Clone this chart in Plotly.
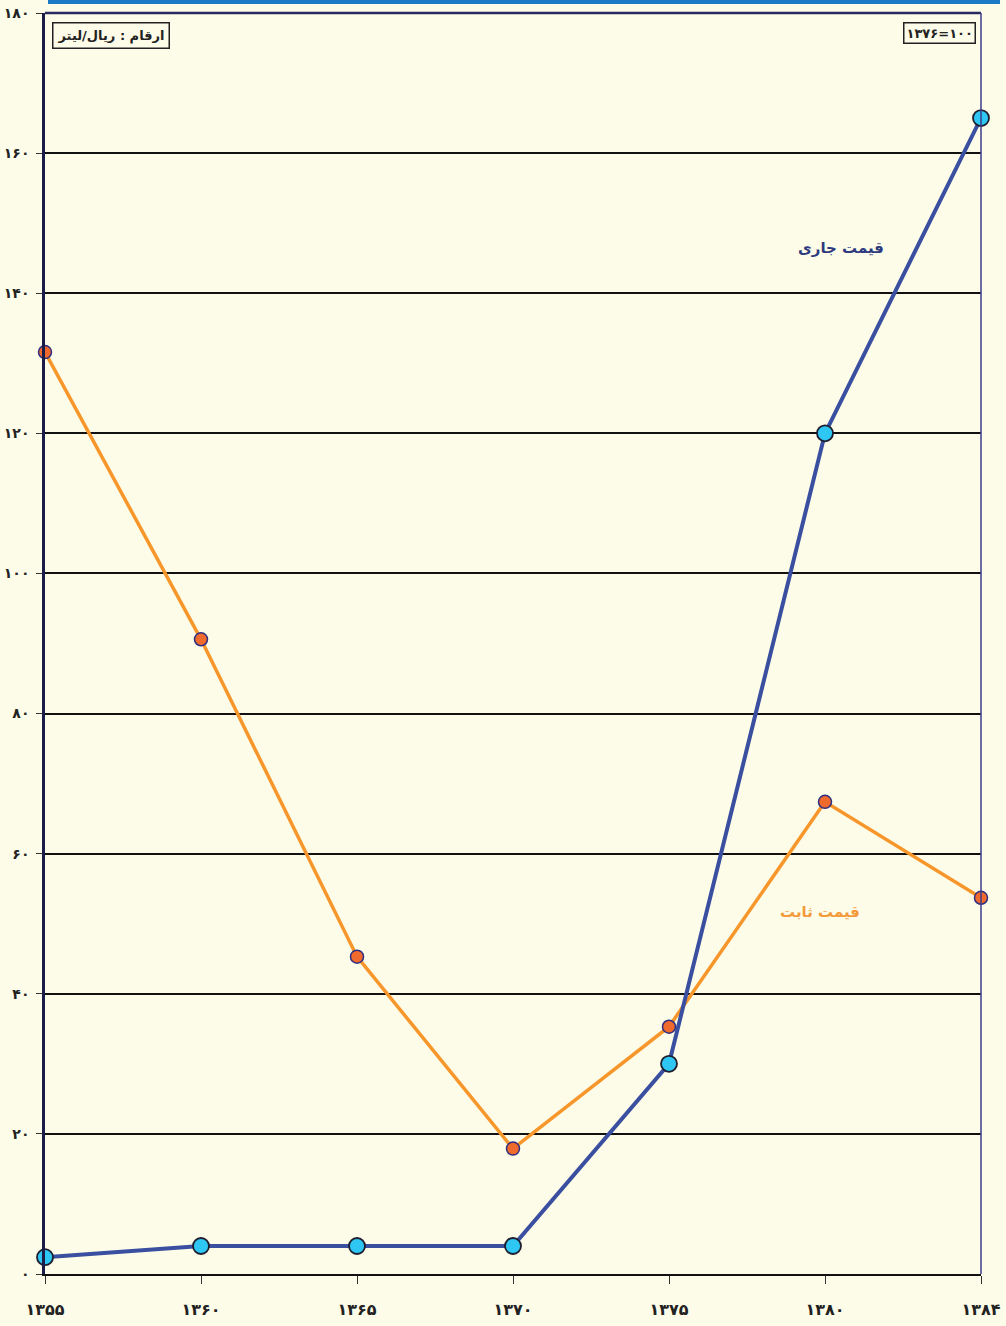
import plotly.graph_objects as go

years = ["۱۳۵۵", "۱۳۶۰", "۱۳۶۵", "۱۳۷۰", "۱۳۷۵", "۱۳۸۰", "۱۳۸۴"]
current_price = [2.4, 4.0, 4.0, 4.0, 30.0, 120.0, 165.0]
constant_price = [131.6, 90.6, 45.3, 17.9, 35.3, 67.4, 53.7]
y_ticks = [0, 20, 40, 60, 80, 100, 120, 140, 160, 180]
y_tick_labels = ["۰", "۲۰", "۴۰", "۶۰", "۸۰", "۱۰۰", "۱۲۰", "۱۴۰", "۱۶۰", "۱۸۰"]

FONT = "DejaVu Sans"
BG = "#FDFCE8"

fig = go.Figure()
fig.add_trace(go.Scatter(
    x=years, y=constant_price, mode="lines+markers", name="قیمت ثابت",
    line=dict(color="#F7962A", width=3.5),
    marker=dict(size=13, color="#F06A2E", line=dict(color="#2E2E80", width=1.5)),
    cliponaxis=False,
))
fig.add_trace(go.Scatter(
    x=years, y=current_price, mode="lines+markers", name="قیمت جاری",
    line=dict(color="#3A4FA0", width=4),
    marker=dict(size=16, color="#2EC6F2", line=dict(color="#1E1E2E", width=1.8)),
    cliponaxis=False,
))

H = 1326
top_px, bot_px = 13, 1274
ph = bot_px - top_px

fig.update_layout(
    width=1006, height=H,
    margin=dict(l=45, r=25, t=top_px, b=H - bot_px),
    paper_bgcolor=BG, plot_bgcolor=BG,
    showlegend=False,
    font=dict(family=FONT, color="#222222"),
    xaxis=dict(
        type="category", range=[0, 6], showgrid=False, automargin=False,
        showline=True, linecolor="#111111", linewidth=2, mirror=False,
        ticks="outside", ticklen=8, tickcolor="#333333", tickwidth=1,
        tickfont=dict(size=16, family=FONT, color="#222222", weight="bold"),
        ticklabelstandoff=12, fixedrange=True,
    ),
    yaxis=dict(
        range=[0, 180], tickvals=y_ticks, ticktext=y_tick_labels, automargin=False,
        showgrid=True, gridcolor="#111111", gridwidth=1.5,
        showline=True, linecolor="#1C1C48", linewidth=2.5,
        ticks="outside", ticklen=6, tickcolor="#333333",
        tickfont=dict(size=14, family=FONT, color="#222222", weight="bold"),
        ticklabelstandoff=4, zeroline=False, fixedrange=True,
    ),
    shapes=[
        dict(type="line", xref="paper", yref="paper", x0=0, x1=1, y0=1, y1=1,
             line=dict(color="#2A2A60", width=2.5)),
        dict(type="line", xref="paper", yref="paper", x0=1, x1=1, y0=0, y1=1,
             line=dict(color="#3C3C8C", width=1.5)),
        dict(type="rect", xref="paper", yref="paper",
             x0=(48 - 45) / 936, x1=(1000 - 45) / 936,
             y0=1 + (13 - 4) / ph, y1=1 + 20 / ph,
             fillcolor="#1B7BC4", line=dict(width=0)),
    ],
    annotations=[
        dict(text="<b>ارقام : ریال/لیتر</b>", xref="paper", yref="paper",
             x=(52 - 45) / 936, y=1 - (22 - 13) / ph, xanchor="left", yanchor="top",
             showarrow=False, font=dict(size=13, family=FONT, color="#222222"),
             bordercolor="#222222", borderwidth=1.5, borderpad=4, bgcolor=BG),
        dict(text="<b>۱۳۷۶=۱۰۰</b>", xref="paper", yref="paper",
             x=(976 - 45) / 936, y=1 - (22 - 13) / ph, xanchor="right", yanchor="top",
             showarrow=False, font=dict(size=13, family=FONT, color="#222222"),
             bordercolor="#222222", borderwidth=1.5, borderpad=2, bgcolor=BG),
        dict(text="<b>قیمت جاری</b>", xref="paper", yref="paper",
             x=(841 - 45) / 936, y=1 - (248 - 13) / ph, xanchor="center", yanchor="middle",
             showarrow=False, font=dict(size=15, family=FONT, color="#2E3A7E")),
        dict(text="<b>قیمت ثابت</b>", xref="paper", yref="paper",
             x=(820 - 45) / 936, y=1 - (912 - 13) / ph, xanchor="center", yanchor="middle",
             showarrow=False, font=dict(size=15, family=FONT, color="#F39A3A")),
    ],
)

fig.write_html(
    "out.html",
    config={"displayModeBar": False},
    post_script="document.body.style.margin='0';document.body.style.overflow='hidden';document.body.style.background='#FDFCE8';",
)
